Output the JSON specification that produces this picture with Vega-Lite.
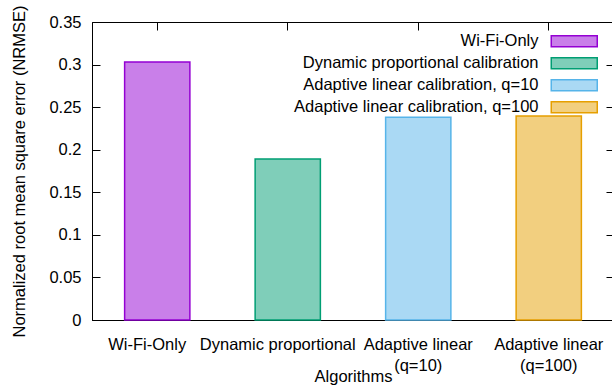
{
  "$schema": "https://vega.github.io/schema/vega-lite/v6.json",
  "width": 522,
  "height": 298,
  "autosize": "none",
  "padding": {"left": 92, "top": 22, "right": 0, "bottom": 65},
  "background": "white",
  "config": {
    "font": "Liberation Sans",
    "view": {"stroke": "#000", "strokeWidth": 1},
    "axis": {
      "domainColor": "#000",
      "domainWidth": 1,
      "tickColor": "#000",
      "tickWidth": 1,
      "tickSize": -8,
      "labelColor": "#000",
      "labelFontSize": 16.5,
      "titleColor": "#000",
      "titleFontSize": 16.5,
      "titleFontWeight": "normal",
      "grid": false
    }
  },
  "data": {
    "values": [
      {"algorithm": "Wi-Fi-Only", "series": "Wi-Fi-Only", "nrmse": 0.303},
      {"algorithm": "Dynamic proportional", "series": "Dynamic proportional calibration", "nrmse": 0.189},
      {"algorithm": "Adaptive linear (q=10)", "series": "Adaptive linear calibration, q=10", "nrmse": 0.238},
      {"algorithm": "Adaptive linear (q=100)", "series": "Adaptive linear calibration, q=100", "nrmse": 0.2395}
    ]
  },
  "layer": [
    {
      "mark": {"type": "bar", "strokeWidth": 1.5},
      "encoding": {
        "x": {
          "field": "algorithm",
          "type": "nominal",
          "sort": null,
          "scale": {"paddingInner": 0.5, "paddingOuter": 0.25},
          "axis": {
            "title": "Algorithms",
            "titleX": 261,
            "titleY": 61,
            "titleAlign": "center",
            "titleBaseline": "alphabetic",
            "labelAngle": 0,
            "labelBaseline": "alphabetic",
            "labelPadding": 37,
            "labelLineHeight": 21,
            "labelLimit": 300,
            "labelOffset": {"condition": {"test": "datum.index < 0.5", "value": -10}, "value": 0},
            "labelExpr": "indexof(datum.label, ' (') > 0 ? [substring(datum.label, 0, indexof(datum.label, ' (')), substring(datum.label, indexof(datum.label, ' (') + 1)] : datum.label",
            "encode": {
              "ticks": {
                "update": {
                  "x": {"signal": "scale('x', datum.value) + bandwidth('x') / 2 - (datum.index < 0.5 ? 10 : 0)"},
                  "x2": {"signal": "scale('x', datum.value) + bandwidth('x') / 2 - (datum.index < 0.5 ? 10 : 0)"}
                }
              }
            }
          }
        },
        "y": {
          "field": "nrmse",
          "type": "quantitative",
          "scale": {"domain": [0, 0.35]},
          "axis": {
            "title": "Normalized root mean square error (NRMSE)",
            "titleX": -68,
            "titleY": 149,
            "titleAlign": "center",
            "titleBaseline": "alphabetic",
            "values": [0, 0.05, 0.1, 0.15, 0.2, 0.25, 0.3, 0.35],
            "format": "~g",
            "labelPadding": 19
          }
        },
        "fill": {
          "field": "series",
          "type": "nominal",
          "sort": null,
          "scale": {"range": ["#c97fe9", "#7fceb9", "#aad9f4", "#f2cf7f"]},
          "legend": {
            "orient": "none",
            "legendX": 474,
            "legendY": 11,
            "padding": 0,
            "title": null,
            "symbolType": "M-4.6,-1.1H4.6V1.1H-4.6Z",
            "symbolSize": 100,
            "symbolStrokeWidth": 1.5,
            "labelAlign": "right",
            "labelOffset": -44,
            "labelFontSize": 16.5,
            "labelColor": "#000",
            "labelLimit": 400,
            "rowPadding": 4
          }
        },
        "stroke": {
          "field": "series",
          "type": "nominal",
          "sort": null,
          "scale": {"range": ["#9400d3", "#009e73", "#56b4e9", "#e69f00"]},
          "legend": {
            "orient": "none",
            "legendX": 474,
            "legendY": 11,
            "padding": 0,
            "title": null,
            "symbolType": "M-4.6,-1.1H4.6V1.1H-4.6Z",
            "symbolSize": 100,
            "symbolStrokeWidth": 1.5,
            "labelAlign": "right",
            "labelOffset": -44,
            "labelFontSize": 16.5,
            "labelColor": "#000",
            "labelLimit": 400,
            "rowPadding": 4
          }
        }
      }
    },
    {
      "mark": {"type": "bar", "opacity": 0},
      "encoding": {
        "x": {
          "field": "algorithm",
          "type": "nominal",
          "sort": null,
          "axis": {
            "orient": "top",
            "labels": false,
            "title": null,
            "domain": false,
            "encode": {
              "ticks": {
                "update": {
                  "x": {"signal": "scale('x', datum.value) + bandwidth('x') / 2 - (datum.index < 0.5 ? 10 : 0)"},
                  "x2": {"signal": "scale('x', datum.value) + bandwidth('x') / 2 - (datum.index < 0.5 ? 10 : 0)"}
                }
              }
            }
          }
        },
        "y": {
          "field": "nrmse",
          "type": "quantitative",
          "axis": {"orient": "right", "labels": false, "title": null, "domain": false, "values": [0, 0.05, 0.1, 0.15, 0.2, 0.25, 0.3, 0.35]}
        }
      }
    }
  ],
  "resolve": {"axis": {"x": "independent", "y": "independent"}}
}
